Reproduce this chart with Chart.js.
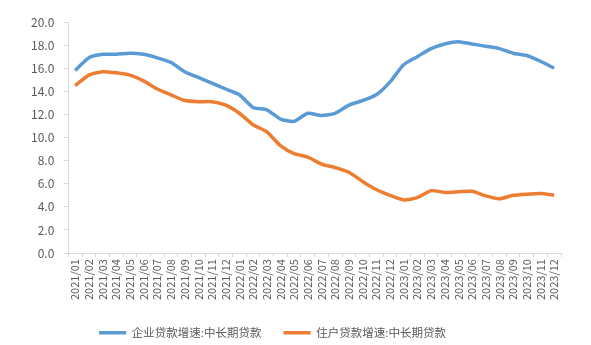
<!DOCTYPE html>
<html>
<head>
<meta charset="utf-8">
<script src="https://cdn.jsdelivr.net/npm/chart.js@4.4.0/dist/chart.umd.min.js"></script>
<style>
  html, body { margin: 0; padding: 0; background: #fff; }
  #wrap { width: 591px; height: 345px; }
</style>
</head>
<body>
<div id="wrap"><canvas id="loanChart"></canvas></div>
<script>
// Monthly labels 2021/01 - 2023/12
const months = [
    '2021/01', '2021/02', '2021/03', '2021/04', '2021/05', '2021/06',
    '2021/07', '2021/08', '2021/09', '2021/10', '2021/11', '2021/12',
    '2022/01', '2022/02', '2022/03', '2022/04', '2022/05', '2022/06',
    '2022/07', '2022/08', '2022/09', '2022/10', '2022/11', '2022/12',
    '2023/01', '2023/02', '2023/03', '2023/04', '2023/05', '2023/06',
    '2023/07', '2023/08', '2023/09', '2023/10', '2023/11', '2023/12'
];

// 企业中长期贷款增速 (%)
const corpLoans = [
    15.8, 16.9, 17.2, 17.2, 17.3, 17.2, 16.9, 16.5, 15.7, 15.2, 14.7, 14.2,
    13.7, 12.6, 12.4, 11.6, 11.4, 12.1, 11.9, 12.1, 12.8, 13.2, 13.7, 14.8,
    16.3, 17.0, 17.7, 18.1, 18.3, 18.1, 17.9, 17.7, 17.3, 17.1, 16.6, 16.0
];

// 住户中长期贷款增速 (%)
const householdLoans = [
    14.5, 15.4, 15.7, 15.6, 15.4, 14.9, 14.2, 13.7, 13.2, 13.1, 13.1, 12.8,
    12.1, 11.1, 10.5, 9.3, 8.6, 8.3, 7.7, 7.4, 7.0, 6.2, 5.5, 5.0,
    4.6, 4.8, 5.4, 5.25, 5.3, 5.35, 4.95, 4.7, 5.0, 5.1, 5.15, 5.0
];

const seriesNames = ['企业贷款增速:中长期贷款', '住户贷款增速:中长期贷款'];
const yTicks = [0, 2, 4, 6, 8, 10, 12, 14, 16, 18, 20];

const textColor = '#595959';
const axisColor = '#d9d9d9';
const fontFamily = '"Noto Sans CJK SC", "Noto Sans", sans-serif';

// nudge the legend a little left/down and let it use the space down to the edge
const legendShift = {
    id: 'legendShift',
    afterLayout(chart) {
        const lg = chart.legend;
        if (!lg) return;
        const dx = 19, dy = 3;
        lg.left -= dx;
        lg.right -= dx;
        lg.top += dy;
        lg.bottom = chart.height;
        lg.height = lg.bottom - lg.top;
        if (lg.legendHitBoxes) lg.legendHitBoxes.forEach(b => { b.left -= dx; b.top += dy; });
    }
};

new Chart(document.getElementById('loanChart'), {
    type: 'line',
    data: {
        labels: months,
        datasets: [
            {
                label: seriesNames[0],
                data: corpLoans,
                borderColor: '#5b9bd5',
                backgroundColor: '#5b9bd5',
                borderWidth: 3.5,
                pointRadius: 0,
                tension: 0.2
            },
            {
                label: seriesNames[1],
                data: householdLoans,
                borderColor: '#ed7d31',
                backgroundColor: '#ed7d31',
                borderWidth: 3.5,
                pointRadius: 0,
                tension: 0.2
            }
        ]
    },
    plugins: [legendShift],
    options: {
        responsive: true,
        maintainAspectRatio: false,
        animation: false,
        layout: {
            padding: { top: 22, right: 30, bottom: 13, left: 22 }
        },
        plugins: {
            legend: {
                position: 'bottom',
                maxHeight: 30,
                labels: {
                    color: textColor,
                    font: { family: fontFamily, size: 11.5 },
                    usePointStyle: true,
                    pointStyle: 'line',
                    pointStyleWidth: 27,
                    boxWidth: 27,
                    padding: 22
                }
            },
            tooltip: { enabled: false }
        },
        scales: {
            x: {
                offset: true,
                grid: {
                    offset: true,
                    drawOnChartArea: false,
                    drawTicks: true,
                    tickLength: 4,
                    color: axisColor
                },
                border: { color: axisColor },
                ticks: {
                    autoSkip: false,
                    maxRotation: 90,
                    minRotation: 90,
                    color: textColor,
                    padding: 2,
                    font: { family: fontFamily, size: 11 }
                }
            },
            y: {
                min: 0,
                max: 20,
                afterBuildTicks: axis => {
                    axis.ticks = yTicks.map(v => ({ value: v }));
                },
                grid: {
                    drawOnChartArea: false,
                    drawTicks: true,
                    tickLength: 5,
                    color: axisColor
                },
                border: { color: axisColor },
                ticks: {
                    color: textColor,
                    padding: 9,
                    font: { family: fontFamily, size: 12 },
                    callback: v => v.toFixed(1)
                }
            }
        }
    }
});
</script>
</body>
</html>
